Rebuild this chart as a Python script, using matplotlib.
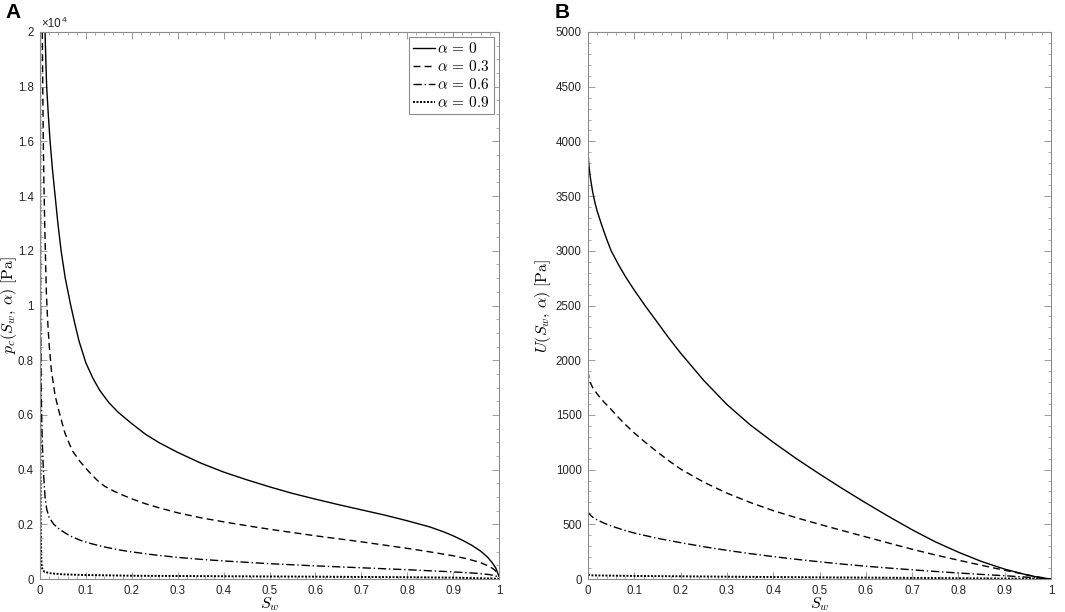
import numpy as np
import matplotlib
matplotlib.use("Agg")
import matplotlib.pyplot as plt
from matplotlib.ticker import MultipleLocator, FuncFormatter

plt.rcParams["font.family"] = ["Liberation Sans", "DejaVu Sans"]
plt.rcParams["mathtext.fontset"] = "cm"

# ---- panel A: capillary pressure pc(Sw, alpha) [Pa] ----
sw_a0 = [0.011, 0.013, 0.0145, 0.018, 0.022, 0.027, 0.033, 0.039, 0.046, 0.055, 0.067,
         0.075, 0.085, 0.1, 0.115, 0.13, 0.15, 0.17, 0.2, 0.23, 0.26, 0.3, 0.35, 0.4,
         0.45, 0.5, 0.55, 0.6, 0.65, 0.7, 0.75, 0.8, 0.85, 0.88, 0.9, 0.92, 0.94,
         0.96, 0.975, 0.985, 0.993, 1.0]
pc_a0 = [20000, 18800, 18000, 17000, 16000, 15000, 14000, 13000, 12000, 11000, 10000,
         9400, 8700, 7900, 7350, 6900, 6450, 6100, 5680, 5290, 4980, 4630, 4240, 3910,
         3630, 3370, 3130, 2920, 2720, 2530, 2340, 2130, 1900, 1720, 1580, 1420, 1240,
         1020, 800, 600, 400, 100]

sw_a3 = [0.005, 0.006, 0.0072, 0.0085, 0.01, 0.0116, 0.0138, 0.0165, 0.02, 0.025, 0.033,
         0.041, 0.054, 0.07, 0.087, 0.105, 0.124, 0.14, 0.16, 0.18, 0.2, 0.23, 0.26,
         0.3, 0.35, 0.4, 0.45, 0.5, 0.55, 0.6, 0.65, 0.7, 0.75, 0.8, 0.85, 0.9, 0.93,
         0.96, 0.98, 0.99, 1.0]
pc_a3 = [20000, 18000, 16000, 14500, 13200, 12000, 10500, 9500, 8550, 7600, 6700,
         6150, 5350, 4700, 4300, 3950, 3620, 3400, 3220, 3070, 2930, 2750, 2600,
         2420, 2240, 2090, 1950, 1820, 1700, 1580, 1470, 1360, 1240, 1120, 990, 850, 740,
         600, 450, 340, 150]

sw_a6 = [0.0005, 0.0007, 0.001, 0.0015, 0.0025, 0.0036, 0.005, 0.0073, 0.009, 0.011,
         0.0146, 0.02, 0.03, 0.0436, 0.065, 0.087, 0.11, 0.138, 0.17, 0.2, 0.25, 0.3,
         0.35, 0.4, 0.45, 0.5, 0.6, 0.7, 0.8, 0.9, 0.95, 0.98, 1.0]
pc_a6 = [20000, 16000, 12000, 9000, 7000, 6000, 5000, 4000, 3500, 3000,
         2550, 2250, 2000, 1800, 1580, 1420, 1300, 1180, 1070, 990, 880, 790,
         720, 660, 610, 560, 480, 410, 340, 260, 210, 160, 80]

sw_a9 = [0.0004, 0.0006, 0.0009, 0.0015, 0.0025, 0.0036, 0.006, 0.01, 0.022, 0.05, 0.1,
         0.2, 0.4, 0.6, 0.8, 0.9, 1.0]
pc_a9 = [20000, 10000, 5000, 2000, 900, 450, 330, 260, 210, 170, 145,
         120, 100, 85, 65, 50, 10]

# ---- panel B: U(Sw, alpha) [Pa] ----
sw_b0 = [0, 0.002, 0.005, 0.01, 0.015, 0.02, 0.03, 0.04, 0.05, 0.065, 0.08, 0.1, 0.123,
         0.15, 0.175, 0.2, 0.25, 0.3, 0.35, 0.4, 0.45, 0.5, 0.55, 0.6, 0.65, 0.7, 0.75,
         0.8, 0.85, 0.9, 0.95, 0.98, 1.0]
u_b0 = [3900, 3780, 3670, 3540, 3440, 3360, 3230, 3110, 3000, 2880, 2770, 2640, 2500,
        2345, 2200, 2065, 1815, 1595, 1410, 1250, 1100, 960, 825, 695, 570, 450, 340,
        245, 160, 90, 35, 10, 0]

sw_b3 = [0, 0.002, 0.005, 0.01, 0.02, 0.035, 0.05, 0.065, 0.08, 0.1, 0.125, 0.15, 0.175,
         0.2, 0.25, 0.3, 0.35, 0.4, 0.45, 0.5, 0.55, 0.6, 0.65, 0.7, 0.75, 0.8, 0.85,
         0.9, 0.95, 0.98, 1.0]
u_b3 = [1900, 1840, 1795, 1750, 1690, 1615, 1550, 1480, 1415, 1335, 1245, 1160, 1080,
        1005, 885, 785, 700, 625, 560, 500, 442, 385, 328, 272, 220, 172, 125,
        80, 37, 13, 0]

sw_b6 = [0, 0.002, 0.005, 0.01, 0.02, 0.035, 0.05, 0.075, 0.1, 0.15, 0.2, 0.25, 0.3,
         0.35, 0.4, 0.45, 0.5, 0.55, 0.6, 0.65, 0.7, 0.75, 0.8, 0.85, 0.9, 0.95, 0.98, 1.0]
u_b6 = [615, 598, 585, 565, 540, 510, 485, 450, 420, 372, 332, 295, 262,
        232, 205, 180, 157, 136, 117, 100, 84, 69, 55, 42, 30, 16, 7, 0]

sw_b9 = [0, 0.01, 0.1, 0.3, 0.5, 0.7, 0.9, 1.0]
u_b9 = [38, 33, 28, 21, 15, 10, 4, 0]

labels = [r"$\alpha\,=\,0$", r"$\alpha\,=\,0.3$", r"$\alpha\,=\,0.6$", r"$\alpha\,=\,0.9$"]
styles = ["-", (0, (5, 3)), (0, (6, 2, 1, 2)), (0, (1, 0.8))]
widths = [1.0, 1.0, 1.0, 1.4]

box_col = "#8c8c8c"
txt_col = "#262626"

fig = plt.figure(figsize=(10.65, 6.12), dpi=100)
ax1 = fig.add_axes([40 / 1065, 33 / 612, 459 / 1065, 547 / 612])
ax2 = fig.add_axes([588 / 1065, 33 / 612, 463 / 1065, 547 / 612])

for sw, y, ls, lw, lab in zip([sw_a0, sw_a3, sw_a6, sw_a9], [pc_a0, pc_a3, pc_a6, pc_a9],
                              styles, widths, labels):
    ax1.plot(sw, y, color="black", linestyle=ls, linewidth=lw, label=lab)

for sw, y, ls, lw in zip([sw_b0, sw_b3, sw_b6, sw_b9], [u_b0, u_b3, u_b6, u_b9], styles, widths):
    ax2.plot(sw, y, color="black", linestyle=ls, linewidth=lw)

ax1.set_ylim(0, 20000)
ax1.yaxis.set_major_locator(MultipleLocator(2000))
ax1.yaxis.set_minor_locator(MultipleLocator(500))
ax1.yaxis.set_major_formatter(FuncFormatter(lambda v, p: "%g" % (v / 1e4)))
ax1.text(0.003, 1.004, "×10", transform=ax1.transAxes, fontsize=8.3, color=txt_col, va="bottom")
ax1.text(0.047, 1.015, "4", transform=ax1.transAxes, fontsize=6, color=txt_col, va="bottom")

ax2.set_ylim(0, 5000)
ax2.yaxis.set_major_locator(MultipleLocator(500))
ax2.yaxis.set_minor_locator(MultipleLocator(100))

for ax in (ax1, ax2):
    ax.set_xlim(0, 1)
    ax.xaxis.set_major_locator(MultipleLocator(0.1))
    ax.xaxis.set_minor_locator(MultipleLocator(0.02))
    ax.xaxis.set_major_formatter(FuncFormatter(lambda v, p: "%g" % round(v, 2)))
    ax.tick_params(which="both", direction="in", top=True, right=True, color=box_col,
                   labelcolor=txt_col, labelsize=8.3)
    ax.tick_params(which="major", length=5, width=0.6, pad=4.5)
    ax.tick_params(axis="x", which="major", pad=4)
    ax.tick_params(which="minor", length=2.5, width=0.5)
    for s in ax.spines.values():
        s.set_color(box_col)
        s.set_linewidth(0.8)
    ax.set_xlabel(r"$S_w$", fontsize=11.5)
    ax.xaxis.set_label_coords(0.5, -0.029)

ax1.set_ylabel(r"$p_c(S_w,\,\alpha)\ [\mathrm{Pa}]$", fontsize=11.5)
ax1.yaxis.set_label_coords(-0.046, 0.5)
ax2.set_ylabel(r"$U(S_w,\,\alpha)\ [\mathrm{Pa}]$", fontsize=11.5)
ax2.yaxis.set_label_coords(-0.076, 0.5)

leg = ax1.legend(loc="upper right", fontsize=11, handlelength=1.45, handletextpad=0.15,
                 labelspacing=0.2, borderpad=0.25, borderaxespad=0.35, fancybox=False,
                 framealpha=1)
leg.get_frame().set_edgecolor(box_col)
leg.get_frame().set_linewidth(0.8)

fig.text(5 / 1065, 1 - 3 / 612, "A", fontsize=15, fontweight="bold", va="top", ha="left")
fig.text(555 / 1065, 1 - 3 / 612, "B", fontsize=15, fontweight="bold", va="top", ha="left")

fig.savefig("out.png", dpi=100)
